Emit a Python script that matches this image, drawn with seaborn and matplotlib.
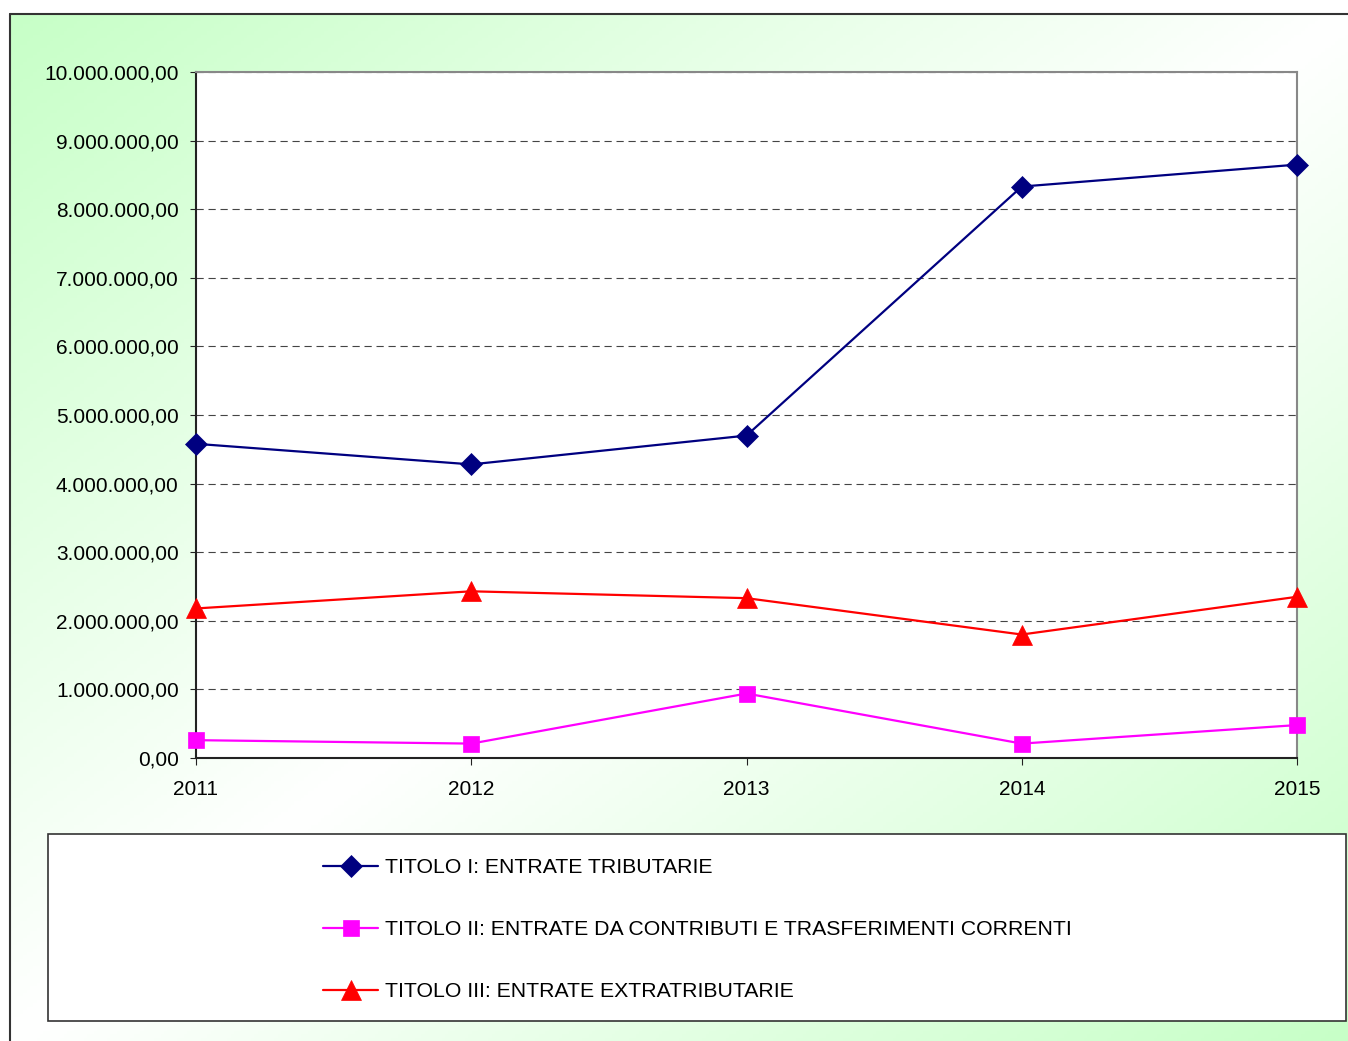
import matplotlib
matplotlib.use("Agg")
import matplotlib.pyplot as plt
import numpy as np
import pandas as pd
import seaborn as sns
from matplotlib.ticker import FuncFormatter, MultipleLocator
from matplotlib.patches import Rectangle

# data
anni = [2011, 2012, 2013, 2014, 2015]
titolo_1 = [4580000, 4280000, 4700000, 8330000, 8650000]
titolo_2 = [260000, 210000, 940000, 210000, 480000]
titolo_3 = [2180000, 2430000, 2330000, 1800000, 2350000]
nomi = ["TITOLO I: ENTRATE TRIBUTARIE",
        "TITOLO II: ENTRATE DA CONTRIBUTI E TRASFERIMENTI CORRENTI",
        "TITOLO III: ENTRATE EXTRATRIBUTARIE"]

colori = ["#000080", "#ff00ff", "#ff0000"]
marker = ["D", "s", "^"]
msize = [10.7, 11, 15]

sns.set_style("ticks")
plt.rcParams['font.family'] = ['Liberation Sans', 'DejaVu Sans']
plt.rcParams['font.size'] = 15
plt.rcParams['text.color'] = 'black'
plt.rcParams['xtick.color'] = 'black'
plt.rcParams['ytick.color'] = 'black'

W, H = 1348, 1041
fig = plt.figure(figsize=(W / 100, H / 100), dpi=100)
fig.patch.set_facecolor("white")

# gradient background (green corners, white diagonal band)
bg = fig.add_axes([0, 0, 1, 1], zorder=-5)
xx, yy = np.meshgrid(np.linspace(0, 1, 400), np.linspace(0, 1, 300))
t = np.abs(xx + yy - 1.0)
t = np.clip(t, 0, 1) ** 1.0
verde = np.array([0.78, 1.0, 0.78])
img = 1 - t[..., None] * (1 - verde)
bg.imshow(img, extent=[10, W, H, 14], aspect="auto")
bg.set_xlim(0, W)
bg.set_ylim(H, 0)
bg.axis("off")
bg.plot([10, 10], [14, H], color="#333333", lw=1.5)
bg.plot([10, W], [14, 14], color="#333333", lw=1.5)

ax = fig.add_axes([196 / W, 1 - 758 / H, (1297 - 196) / W, (758 - 72) / H])
ax.set_facecolor("white")

for vals, nome, c, m, ms in zip([titolo_1, titolo_2, titolo_3], nomi, colori, marker, msize):
    sns.lineplot(x=anni, y=vals, ax=ax, color=c, marker=m, markersize=ms,
                 markeredgecolor=c, markeredgewidth=0.5, linewidth=1.6,
                 label=nome, clip_on=False, zorder=3)

ax.set_xlim(2011, 2015)
ax.set_ylim(0, 10000000)
ax.set_xticks(anni)
ax.yaxis.set_major_locator(MultipleLocator(1000000))


def fmt_it(v, pos):
    s = "{:,.2f}".format(v)
    return s.replace(",", "X").replace(".", ",").replace("X", ".")


ax.yaxis.set_major_formatter(FuncFormatter(fmt_it))
ax.yaxis.grid(True, linestyle=(0, (6.5, 4.3)), color="#444444", linewidth=0.8)
ax.xaxis.grid(False)
ax.tick_params(axis="y", direction="out", length=4.5, width=0.8, color="#222222", pad=8, labelsize=15)
ax.tick_params(axis="x", direction="out", length=5, width=0.8, color="#222222", pad=11, labelsize=15)
ax.set_xlabel("")
ax.set_ylabel("")

for s in ["top", "right"]:
    ax.spines[s].set_color("#888888")
    ax.spines[s].set_linewidth(1.5)
for s in ["left", "bottom"]:
    ax.spines[s].set_color("#222222")
    ax.spines[s].set_linewidth(1.5)

# legend box under the plot
handles, labels = ax.get_legend_handles_labels()
ax.get_legend().remove()
bg.add_patch(Rectangle((48, 834), 1346 - 48, 1021 - 834, facecolor="white",
                       edgecolor="#333333", linewidth=1.2, zorder=2))
fig.legend(handles, labels, loc="upper left", bbox_to_anchor=(323 / W, 1 - 858 / H),
           frameon=False, borderpad=0, borderaxespad=0, handlelength=2.6,
           handletextpad=0.3, labelspacing=2.03, fontsize=15.3)

fig.savefig("out.png", dpi=100)
